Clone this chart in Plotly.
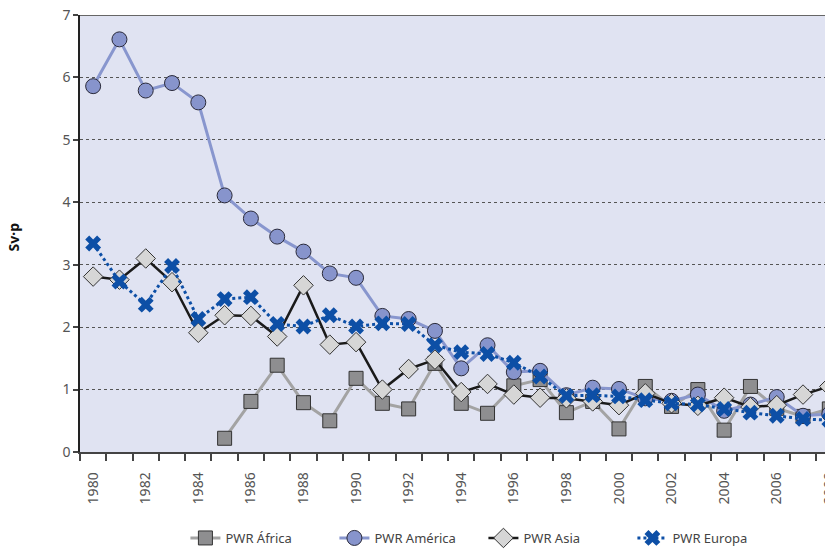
import plotly.graph_objects as go

years = list(range(1980, 2009))

africa_years = list(range(1985, 2009))
africa = [0.22, 0.81, 1.39, 0.79, 0.50, 1.18, 0.78, 0.69, 1.42, 0.78, 0.62, 1.06, 1.16,
          0.63, 0.81, 0.37, 1.05, 0.73, 1.00, 0.35, 1.05, 0.70, 0.57, 0.69]

america = [5.86, 6.61, 5.79, 5.91, 5.60, 4.11, 3.74, 3.45, 3.21, 2.86, 2.79, 2.18, 2.13,
           1.94, 1.34, 1.71, 1.28, 1.30, 0.91, 1.03, 1.01, 0.86, 0.82, 0.92, 0.66, 0.76,
           0.88, 0.58, 0.61]

asia = [2.81, 2.76, 3.10, 2.72, 1.91, 2.19, 2.18, 1.85, 2.67, 1.72, 1.76, 1.00, 1.33,
        1.48, 0.96, 1.09, 0.92, 0.87, 0.86, 0.81, 0.75, 0.94, 0.78, 0.74, 0.87, 0.72,
        0.75, 0.92, 1.05]

europa = [3.34, 2.73, 2.36, 2.98, 2.13, 2.45, 2.48, 2.05, 2.01, 2.19, 2.01, 2.06, 2.05,
          1.71, 1.60, 1.57, 1.43, 1.21, 0.90, 0.91, 0.89, 0.83, 0.78, 0.76, 0.69, 0.63,
          0.58, 0.53, 0.51]

tick_years = list(range(1980, 2009, 2))
tick_labels = [str(y) for y in tick_years]

FONT = "Noto Sans"

fig = go.Figure()

fig.add_trace(go.Scatter(
    x=africa_years, y=africa, name="PWR África", mode="lines+markers",
    line=dict(color="#A3A3A3", width=3),
    marker=dict(symbol="square", size=14, color="#8E8E90", line=dict(color="#333333", width=1)),
))
fig.add_trace(go.Scatter(
    x=years, y=america, name="PWR América", mode="lines+markers",
    line=dict(color="#8896CE", width=3),
    marker=dict(symbol="circle", size=15, color="#8794CC", line=dict(color="#2a2a3a", width=1)),
))
fig.add_trace(go.Scatter(
    x=years, y=asia, name="PWR Asia", mode="lines+markers",
    line=dict(color="#1a1a1a", width=2.5),
    marker=dict(symbol="diamond", size=15, color="#D6D6D6", line=dict(color="#333333", width=1)),
))
fig.add_trace(go.Scatter(
    x=years, y=europa, name="PWR Europa", mode="lines+markers",
    line=dict(color="#0D4FA6", width=3, dash="dot"),
    marker=dict(symbol="x", size=14, color="#0D4FA6", line=dict(width=0)),
))

fig.add_shape(type="line", xref="paper", yref="y", x0=0, x1=1, y0=7, y1=7,
              line=dict(color="#666666", width=2))

fig.add_annotation(text="<b>Sv·p</b>", xref="paper", yref="paper", x=-0.087, y=0.492,
                   xanchor="center", yanchor="middle",
                   textangle=-90, showarrow=False,
                   font=dict(family=FONT, size=14, color="#111111"))

fig.update_layout(
    width=825, height=545,
    margin=dict(l=72, r=0, t=7, b=93),
    paper_bgcolor="white",
    plot_bgcolor="#E0E3F2",
    font=dict(family=FONT, size=13, color="#555555"),
    showlegend=True,
    legend=dict(orientation="h", x=0.14, y=-0.198, xanchor="left", yanchor="middle",
                entrywidth=104, entrywidthmode="pixels", itemwidth=30,
                font=dict(family=FONT, size=13, color="#444444"),
                bgcolor="rgba(0,0,0,0)"),
    xaxis=dict(
        range=[1979.5, 2008.14], tickmode="array", tickvals=tick_years, ticktext=tick_labels,
        tickangle=-90, ticks="outside", ticklen=13, tickcolor="rgba(0,0,0,0)",
        showgrid=False, zeroline=False, automargin=False, ticklabeloverflow="allow",
        showline=True, linecolor="#444444", linewidth=1.5,
        tickfont=dict(family=FONT, size=14, color="#555555"),
        minor=dict(ticks="outside", tick0=1979.5, dtick=1, ticklen=7, tickcolor="#444444",
                   tickwidth=1.5, showgrid=False),
    ),
    yaxis=dict(
        range=[0, 7], tickmode="array", tickvals=[0, 1, 2, 3, 4, 5, 6, 7],
        ticks="outside", ticklen=5, tickcolor="#444444", tickwidth=1.5, automargin=False,
        ticklabeloverflow="allow",
        showgrid=True, gridcolor="#555555", gridwidth=1, griddash="dot",
        zeroline=False, showline=True, linecolor="#222222", linewidth=1.5,
        tickfont=dict(family=FONT, size=14, color="#555555"),
    ),
)

fig.write_html("out.html")
